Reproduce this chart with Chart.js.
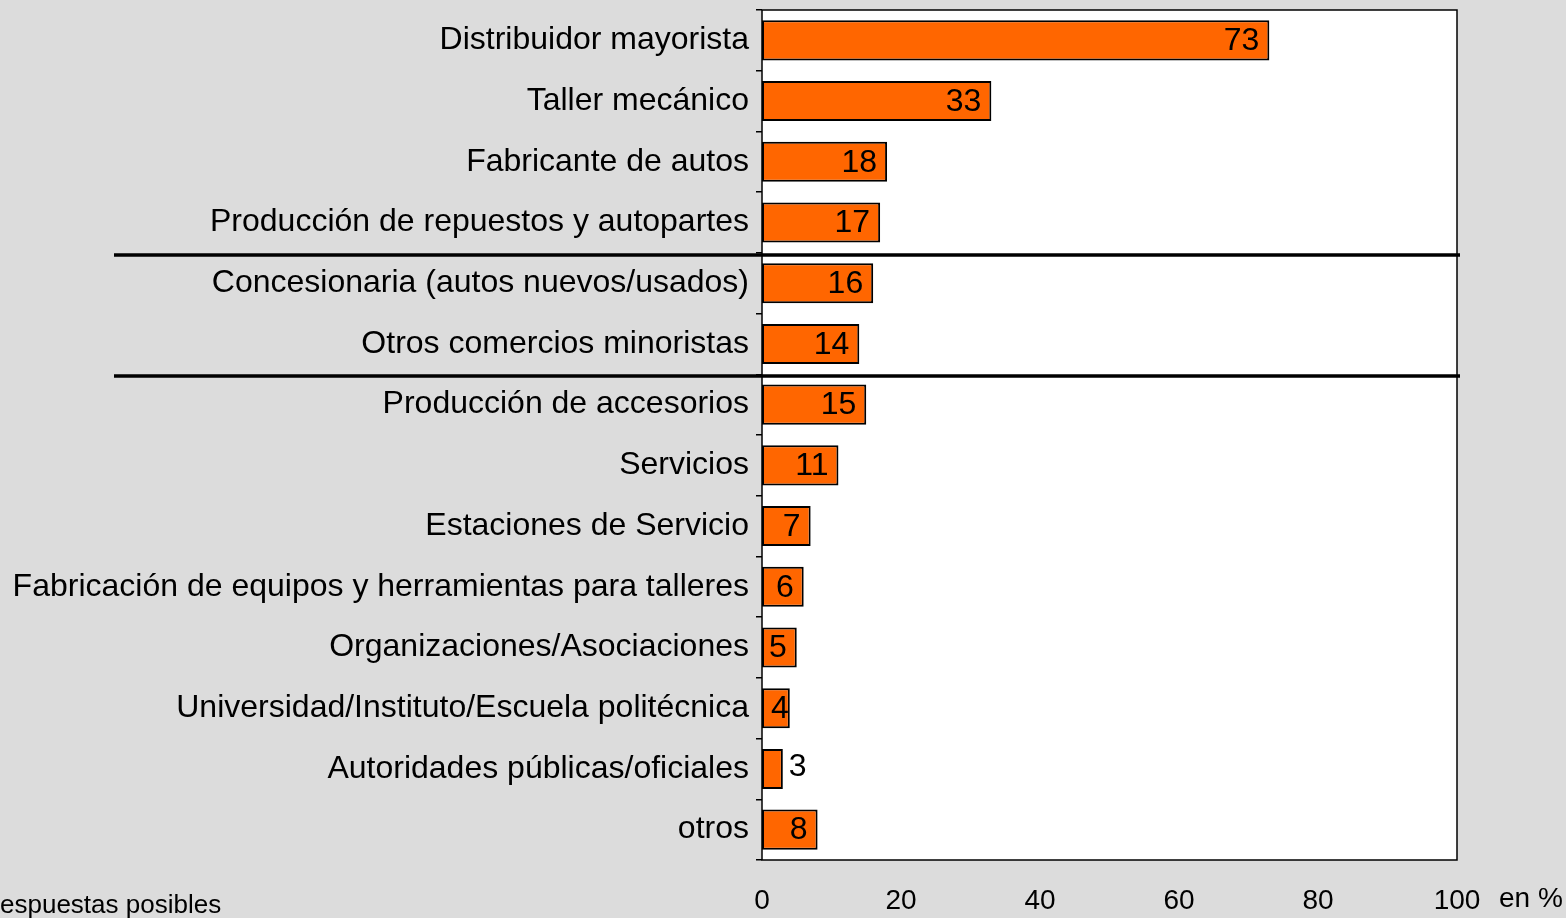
<!DOCTYPE html>
<html>
<head>
<meta charset="utf-8">
<script src="https://cdn.jsdelivr.net/npm/chart.js@4/dist/chart.umd.min.js"></script>
<style>
  html, body { margin: 0; padding: 0; background: #dcdcdc; }
  #wrap { width: 1566px; height: 918px; position: relative; }
</style>
</head>
<body>
<div id="wrap"><canvas id="chart" width="1566" height="918"></canvas></div>
<script>
// ─── DONNÉES ──────────────────────────────────────────────────────────────
const categories = [
    'Distribuidor mayorista',
    'Taller mecánico',
    'Fabricante de autos',
    'Producción de repuestos y autopartes',
    'Concesionaria (autos nuevos/usados)',
    'Otros comercios minoristas',
    'Producción de accesorios',
    'Servicios',
    'Estaciones de Servicio',
    'Fabricación de equipos y herramientas para talleres',
    'Organizaciones/Asociaciones',
    'Universidad/Instituto/Escuela politécnica',
    'Autoridades públicas/oficiales',
    'otros'
];
const values = [73, 33, 18, 17, 16, 14, 15, 11, 7, 6, 5, 4, 3, 8];
const xTicks = [0, 20, 40, 60, 80, 100];
// séparateurs après ces index de catégorie
const separatorsAfter = [3, 5];

const FONT = "'Liberation Sans', Arial, sans-serif";
Chart.defaults.font.family = FONT;
Chart.defaults.color = '#000';

// fond blanc + cadre de la zone de tracé, lignes de séparation, étiquettes
const framePlugin = {
    id: 'frame',
    beforeDraw(chart) {
        const { ctx, chartArea: a } = chart;
        ctx.save();
        ctx.fillStyle = '#fff';
        ctx.fillRect(a.left, a.top, a.right - a.left, a.bottom - a.top);
        ctx.restore();
    },
    afterDatasetsDraw(chart) {
        const { ctx, chartArea: a } = chart;
        const y = chart.scales.y;
        ctx.save();
        ctx.strokeStyle = '#000';
        ctx.lineWidth = 1.5;
        ctx.strokeRect(a.left, a.top, a.right - a.left, a.bottom - a.top);

        // lignes de séparation des groupes
        ctx.lineWidth = 3.5;
        separatorsAfter.forEach(i => {
            const yy = Math.round((y.getPixelForValue(i) + y.getPixelForValue(i + 1)) / 2) + 2;
            ctx.beginPath();
            ctx.moveTo(114, yy);
            ctx.lineTo(a.right + 3, yy);
            ctx.stroke();
        });

        // valeurs sur les barres
        ctx.font = '32px ' + FONT;
        ctx.fillStyle = '#000';
        ctx.textBaseline = 'middle';
        const meta = chart.getDatasetMeta(0);
        meta.data.forEach((bar, i) => {
            const v = values[i];
            if (v <= 3) {
                ctx.textAlign = 'left';
                ctx.fillText(String(v), bar.x + 6, bar.y - 2);
            } else {
                ctx.textAlign = 'right';
                ctx.fillText(String(v), bar.x - (v < 5 ? 1 : 10), bar.y + 1);
            }
        });

        // unité
        ctx.textAlign = 'left';
        ctx.font = '28px ' + FONT;
        ctx.fillText('en %', 1499, 899);

        // note en bas à gauche
        ctx.font = '26px ' + FONT;
        ctx.fillText('espuestas posibles', 0, 906);
        ctx.restore();
    }
};

new Chart(document.getElementById('chart').getContext('2d'), {
    type: 'bar',
    data: {
        labels: categories,
        datasets: [{
            data: values,
            backgroundColor: '#ff6600',
            borderColor: '#000',
            borderWidth: 2,
            borderSkipped: false,
            categoryPercentage: 1,
            barPercentage: 0.66
        }]
    },
    options: {
        indexAxis: 'y',
        responsive: false,
        animation: false,
        layout: { padding: { top: 10, right: 109, left: 0, bottom: 0 } },
        plugins: { legend: { display: false }, tooltip: { enabled: false } },
        scales: {
            x: {
                min: 0, max: 100,
                afterBuildTicks: s => { s.ticks = xTicks.map(v => ({ value: v })); },
                afterFit: s => { s.height = 58; s.paddingLeft = 0; s.paddingRight = 0; },
                grid: { display: false, drawTicks: false },
                border: { display: false },
                ticks: { padding: 24, font: { size: 28 }, color: '#000' }
            },
            y: {
                afterFit: s => { s.width = 762; s.paddingTop = 0; s.paddingBottom = 0; },
                grid: { offset: true, drawOnChartArea: false, tickLength: 6, color: '#000', lineWidth: 1.5 },
                border: { display: false },
                ticks: { padding: 7, font: { size: 32 }, color: '#000', autoSkip: false }
            }
        }
    },
    plugins: [framePlugin]
});
</script>
</body>
</html>
